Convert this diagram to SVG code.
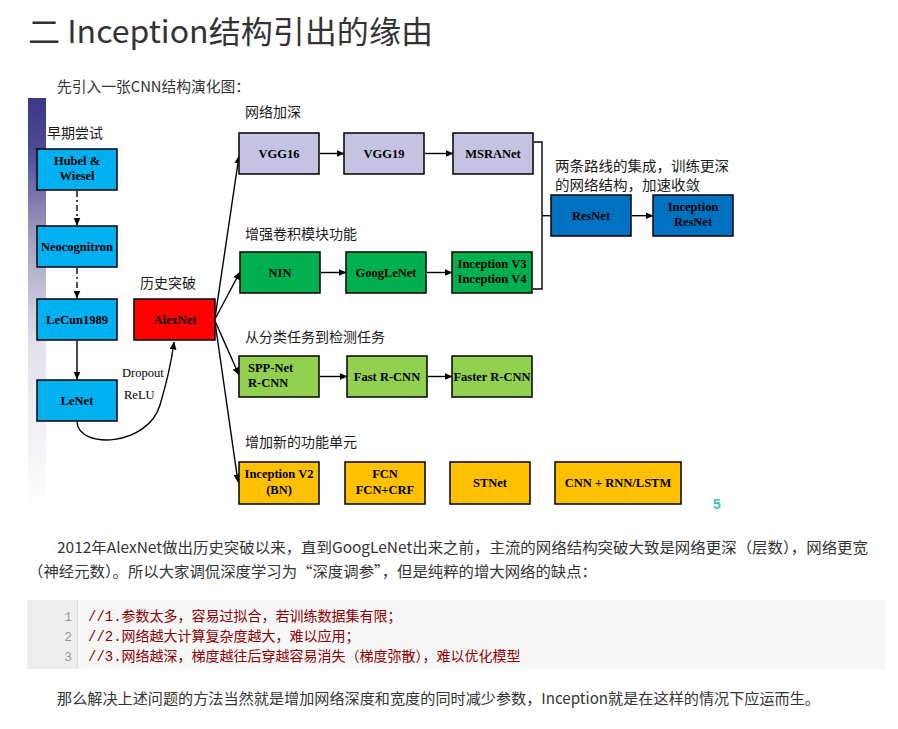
<svg xmlns="http://www.w3.org/2000/svg" width="898" height="729" viewBox="0 0 898 729">
<defs>
<linearGradient id="bar" x1="0" y1="0" x2="0" y2="1">
<stop offset="0" stop-color="#3a3888"/>
<stop offset="0.12" stop-color="#4c4a92"/>
<stop offset="0.35" stop-color="#a4a2c2"/>
<stop offset="0.6" stop-color="#e2e2ec"/>
<stop offset="1" stop-color="#ffffff"/>
</linearGradient>
<marker id="ah" markerWidth="8" markerHeight="7" refX="7.5" refY="3.5" orient="auto" markerUnits="userSpaceOnUse">
<path d="M0,0 L8,3.5 L0,7 z" fill="#000"/>
</marker>
</defs>
<style>
.box{stroke:#000;stroke-width:1.5}
.bt{font-family:"Liberation Serif","Times New Roman",serif;font-weight:bold;font-size:12.5px;fill:#000;text-anchor:middle}
.bl{font-family:"Liberation Serif","Times New Roman",serif;font-weight:bold;font-size:12.5px;fill:#000;text-anchor:start}
.lbl{font-family:"Noto Sans CJK SC","Microsoft YaHei",sans-serif;font-size:14px;fill:#1a1a1a}
.con{stroke:#000;stroke-width:1.4;fill:none}
.arr{stroke:#000;stroke-width:1.4;fill:none;marker-end:url(#ah)}
.dash{stroke:#000;stroke-width:1.4;fill:none;stroke-dasharray:6 3 2 3;marker-end:url(#ah)}
.body{font-family:"Noto Sans CJK SC","Microsoft YaHei",sans-serif;font-size:15px;fill:#333}
.code{font-family:"Liberation Mono","Noto Sans CJK SC",monospace;font-size:14px;fill:#8b0000}
.ln{font-family:"Liberation Mono",monospace;font-size:13px;fill:#999;text-anchor:end}
.blue{fill:#00b0f0}.lav{fill:#c4c4e2}.grn{fill:#00b050}.lgrn{fill:#92d050}.yel{fill:#ffc000}.dblue{fill:#0070c0}.red{fill:#ff0000}
</style>
<rect width="898" height="729" fill="#fff"/>
<text x="28" y="43" font-family="Noto Sans CJK SC,Microsoft YaHei,sans-serif" font-size="31" fill="#333" textLength="405" lengthAdjust="spacingAndGlyphs">二 Inception结构引出的缘由</text>
<text x="57" y="92" class="body" font-size="14" textLength="193" lengthAdjust="spacingAndGlyphs">先引入一张CNN结构演化图：</text>
<rect x="28" y="98" width="18" height="410" fill="url(#bar)"/>

<g id="labels">
<text x="47" y="138" class="lbl">早期尝试</text>
<text x="140" y="288" class="lbl">历史突破</text>
<text x="245" y="117" class="lbl">网络加深</text>
<text x="245" y="239" class="lbl">增强卷积模块功能</text>
<text x="245" y="342" class="lbl">从分类任务到检测任务</text>
<text x="245" y="447" class="lbl">增加新的功能单元</text>
<text x="555" y="171" class="lbl" textLength="174" lengthAdjust="spacingAndGlyphs">两条路线的集成，训练更深</text>
<text x="555" y="190" class="lbl" textLength="145" lengthAdjust="spacingAndGlyphs">的网络结构，加速收敛</text>
<text x="122" y="377" font-family="Liberation Serif,serif" font-size="12.5" fill="#000">Dropout</text>
<text x="124" y="399" font-family="Liberation Serif,serif" font-size="12.5" fill="#000">ReLU</text>
<text x="713" y="509" font-family="Liberation Sans,Arial,sans-serif" font-weight="bold" font-size="14" fill="#3cc4b4">5</text>
</g>

<g id="connectors">
<path class="dash" d="M77,191 V225"/>
<path class="dash" d="M77,268 V298"/>
<path class="arr" d="M77,341 V379"/>
<path class="arr" d="M77,422 C79,450 148,446 160,405 C166,385 171,365 174,342"/>
<path class="arr" d="M215,318 L239,156"/>
<path class="arr" d="M215,319 L240,272"/>
<path class="arr" d="M215,321 L239,375"/>
<path class="arr" d="M215,322 L238,482"/>
<path class="arr" d="M320,153.5 H344"/>
<path class="arr" d="M425,153.5 H453"/>
<path class="arr" d="M321,272.5 H346"/>
<path class="arr" d="M427,272.5 H452"/>
<path class="arr" d="M320,376.5 H347"/>
<path class="arr" d="M428,376.5 H452"/>
<path class="con" d="M534,142 H542 V289 H533"/>
<path class="con" d="M542,215.7 H551"/>
<path class="arr" d="M632,215.7 H653"/>
</g>

<g id="hubel"><rect class="box blue" x="37" y="149" width="80" height="41"/><text class="bt" x="77" y="165">Hubel &amp;</text><text class="bt" x="77" y="180">Wiesel</text></g>
<g id="neocognitron"><rect class="box blue" x="37" y="226" width="80" height="41"/><text class="bt" x="77" y="251">Neocognitron</text></g>
<g id="lecun"><rect class="box blue" x="37" y="299" width="80" height="41"/><text class="bt" x="77" y="324">LeCun1989</text></g>
<g id="lenet"><rect class="box blue" x="37" y="380" width="80" height="41"/><text class="bt" x="77" y="405">LeNet</text></g>
<g id="alexnet"><rect class="box red" x="134" y="299" width="81" height="41"/><text class="bt" x="175" y="324">AlexNet</text></g>

<g id="vgg16"><rect class="box lav" x="239" y="133" width="80" height="41"/><text class="bt" x="279" y="158">VGG16</text></g>
<g id="vgg19"><rect class="box lav" x="344" y="133" width="80" height="41"/><text class="bt" x="384" y="158">VGG19</text></g>
<g id="msranet"><rect class="box lav" x="453" y="133" width="80" height="41"/><text class="bt" x="493" y="158">MSRANet</text></g>

<g id="nin"><rect class="box grn" x="240" y="252" width="80" height="41"/><text class="bt" x="280" y="277">NIN</text></g>
<g id="googlenet"><rect class="box grn" x="346" y="252" width="80" height="41"/><text class="bt" x="386" y="277">GoogLeNet</text></g>
<g id="inceptionv3"><rect class="box grn" x="452" y="252" width="80" height="41"/><text class="bt" x="492" y="268">Inception V3</text><text class="bt" x="492" y="283">Inception V4</text></g>

<g id="resnet"><rect class="box dblue" x="551" y="195" width="80" height="41"/><text class="bt" x="591" y="220">ResNet</text></g>
<g id="incresnet"><rect class="box dblue" x="653" y="195" width="80" height="41"/><text class="bt" x="693" y="211">Inception</text><text class="bt" x="693" y="226">ResNet</text></g>

<g id="sppnet"><rect class="box lgrn" x="239" y="356" width="80" height="41"/><text class="bl" x="248" y="372">SPP-Net</text><text class="bl" x="248" y="387">R-CNN</text></g>
<g id="fastrcnn"><rect class="box lgrn" x="347" y="356" width="80" height="41"/><text class="bt" x="387" y="381">Fast R-CNN</text></g>
<g id="fasterrcnn"><rect class="box lgrn" x="452" y="356" width="80" height="41"/><text class="bt" x="492" y="381">Faster R-CNN</text></g>

<g id="inceptionv2"><rect class="box yel" x="239" y="462" width="80" height="42"/><text class="bt" x="279" y="478">Inception V2</text><text class="bt" x="279" y="494">(BN)</text></g>
<g id="fcn"><rect class="box yel" x="345" y="462" width="80" height="42"/><text class="bt" x="385" y="478">FCN</text><text class="bt" x="385" y="494">FCN+CRF</text></g>
<g id="stnet"><rect class="box yel" x="450" y="462" width="80" height="42"/><text class="bt" x="490" y="487">STNet</text></g>
<g id="cnnrnn"><rect class="box yel" x="555" y="462" width="126" height="42"/><text class="bt" x="618" y="487">CNN + RNN/LSTM</text></g>

<text x="57" y="553" class="body" textLength="811" lengthAdjust="spacingAndGlyphs">2012年AlexNet做出历史突破以来，直到GoogLeNet出来之前，主流的网络结构突破大致是网络更深（层数），网络更宽</text>
<text x="28" y="577" class="body" textLength="569" lengthAdjust="spacingAndGlyphs">（神经元数）。所以大家调侃深度学习为“深度调参”，但是纯粹的增大网络的缺点：</text>

<g id="codeblock">
<rect x="27" y="600" width="858" height="69" fill="#f7f7f7"/>
<rect x="27" y="600" width="50" height="69" fill="#eeeeee"/>
<line x1="77.5" y1="600" x2="77.5" y2="669" stroke="#ddd"/>
<text class="ln" x="72" y="621">1</text>
<text class="ln" x="72" y="641">2</text>
<text class="ln" x="72" y="661">3</text>
<text class="code" x="88" y="621">//1.参数太多，容易过拟合，若训练数据集有限；</text>
<text class="code" x="88" y="641">//2.网络越大计算复杂度越大，难以应用；</text>
<text class="code" x="88" y="661">//3.网络越深，梯度越往后穿越容易消失（梯度弥散），难以优化模型</text>
</g>

<text x="57" y="704" class="body" textLength="763" lengthAdjust="spacingAndGlyphs">那么解决上述问题的方法当然就是增加网络深度和宽度的同时减少参数，Inception就是在这样的情况下应运而生。</text>
</svg>
